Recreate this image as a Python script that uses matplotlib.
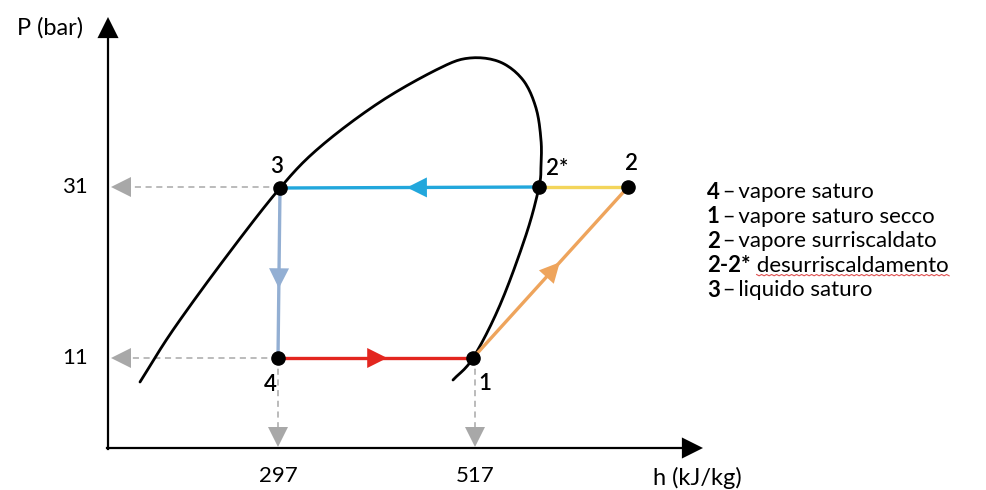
import matplotlib
matplotlib.use('Agg')
import matplotlib.pyplot as plt
import numpy as np
from matplotlib.patches import FancyArrowPatch

plt.rcParams['font.family'] = ['Lato', 'DejaVu Sans']

# schematic P-h diagram, drawn in a pixel-like frame (y grows downward)
dome_x = [140, 173, 226, 280, 320, 380, 440, 470, 500, 523, 536, 541, 541,
          539, 526, 500, 473, 453]
dome_y = [382, 330, 257, 188, 147, 102, 68, 58, 62, 80, 108, 140, 165,
          187, 235, 305, 358, 380]

state_names = ['1', '2', '2*', '3', '4']
state_x = [473, 628, 539, 280, 278]
state_y = [358, 187, 187, 188, 358]
label_dx = [12, 4, 18, -3, -8]
label_dy = [25, -24, -19, -22, 26]

# cycle segments: from state, to state, colour, arrow position along segment
seg_from = ['1', '2', '2*', '3', '4']
seg_to = ['2', '2*', '3', '4', '1']
seg_color = ['#eea45c', '#f3d55b', '#22a7dc', '#93afd3', '#e3261f']
seg_arrow = [0.55, None, 0.5, 0.58, 0.55]

p_ticks = ['31', '11']
p_tick_y = [187, 358]
h_ticks = ['297', '517']
h_tick_x = [278, 475]

legend_keys = ['4', '1', '2', '2-2*', '3']
legend_text = ['\u2009\u2013\u2009vapore saturo', '\u2009\u2013\u2009vapore saturo secco',
               '\u2009\u2013\u2009vapore surriscaldato', ' desurriscaldamento',
               '\u2009\u2013\u2009liquido saturo']


def smooth(xs, ys, n=12):
    # Catmull-Rom through the read-off points, only to draw a smooth curve
    p = np.column_stack([xs, ys]).astype(float)
    p = np.vstack([2 * p[0] - p[1], p, 2 * p[-1] - p[-2]])
    out = []
    t = np.linspace(0, 1, n, endpoint=False)[:, None]
    for i in range(1, len(p) - 2):
        p0, p1, p2, p3 = p[i - 1], p[i], p[i + 1], p[i + 2]
        out.append(0.5 * (2 * p1 + (-p0 + p2) * t + (2 * p0 - 5 * p1 + 4 * p2 - p3) * t ** 2
                          + (-p0 + 3 * p1 - 3 * p2 + p3) * t ** 3))
    out.append(p[-2][None, :])
    out = np.vstack(out)
    return out[:, 0], out[:, 1]


def head(ax, xy_from, xy_to, color, scale, z=5):
    ax.add_patch(FancyArrowPatch(xy_from, xy_to, color=color, lw=0, zorder=z,
                                 arrowstyle='-|>,head_length=0.8,head_width=0.4',
                                 mutation_scale=scale, shrinkA=0, shrinkB=0))


fig = plt.figure(figsize=(9.87, 4.9), dpi=100)
ax = fig.add_axes([0, 0, 1, 1])
ax.set_xlim(0, 987)
ax.set_ylim(490, 0)
ax.axis('off')

pos = {n: (x, y) for n, x, y in zip(state_names, state_x, state_y)}
x0, y0 = 108, 448

# axes with arrows
ax.plot([x0, x0], [y0 + 1, 30], color='black', lw=1.6)
ax.plot([x0 - 1, 690], [y0, y0], color='black', lw=1.6)
head(ax, (x0, 30), (x0, 17), 'black', 19)
head(ax, (688, y0), (703, y0), 'black', 19)
ax.text(50, 28, 'P (bar)', fontsize=17, ha='center', va='center')
ax.text(697, 478, 'h (kJ/kg)', fontsize=17, ha='center', va='center')

# gray dashed guides
grey = '#a8a8a8'
for t, y, sx in zip(p_ticks, p_tick_y, [pos['3'][0], pos['4'][0]]):
    ax.plot([sx, x0 + 14], [y, y], color=grey, lw=1.1, ls=(0, (4, 3)))
    head(ax, (x0 + 16, y), (x0 + 3, y), grey, 18)
    ax.text(75, y, t, fontsize=16, ha='center', va='center')
for t, x, sy in zip(h_ticks, h_tick_x, [pos['4'][1], pos['1'][1]]):
    ax.plot([x, x], [sy, y0 - 14], color=grey, lw=1.1, ls=(0, (4, 3)))
    head(ax, (x, y0 - 16), (x, y0 - 1), grey, 18)
    ax.text(x, 476, t, fontsize=16, ha='center', va='center')

# saturation dome
sx_, sy_ = smooth(dome_x, dome_y)
ax.plot(sx_, sy_, color='black', lw=2.0, solid_capstyle='round', zorder=3)

# cycle
for a, b, c, f in zip(seg_from, seg_to, seg_color, seg_arrow):
    (xa, ya), (xb, yb) = pos[a], pos[b]
    ax.plot([xa, xb], [ya, yb], color=c, lw=2.4, zorder=4)
    if f is not None:
        mx, my = xa + f * (xb - xa), ya + f * (yb - ya)
        dx, dy = (xb - xa) * 0.01, (yb - ya) * 0.01
        head(ax, (mx - dx, my - dy), (mx + dx, my + dy), c, 18)

ax.scatter(state_x, state_y, s=90, color='black', zorder=6)
for n, x, y, dx, dy in zip(state_names, state_x, state_y, label_dx, label_dy):
    ax.text(x + dx, y + dy, n, fontsize=16, fontweight='semibold',
            ha='center', va='center')

# legend
anns = []
for i, (k, t) in enumerate(zip(legend_keys, legend_text)):
    y = 192 + i * 24.5
    kt = ax.text(707, y, k, fontsize=16, fontweight='bold', ha='left', va='center')
    anns.append(ax.annotate(t, xy=(1, 0.5), xycoords=kt, fontsize=16,
                            ha='left', va='center'))

# spell-check squiggle under "desurriscaldamento"
fig.canvas.draw()
bb = anns[3].get_window_extent().transformed(ax.transData.inverted())
base = max(bb.y0, bb.y1)
zx = np.arange(min(bb.x0, bb.x1) + 6, max(bb.x0, bb.x1) + 2, 2.5)
zy = base - 1 + 1.3 * (np.arange(len(zx)) % 2)
ax.plot(zx, zy, color='#e05050', lw=0.8)

fig.savefig('out.png', dpi=100)
